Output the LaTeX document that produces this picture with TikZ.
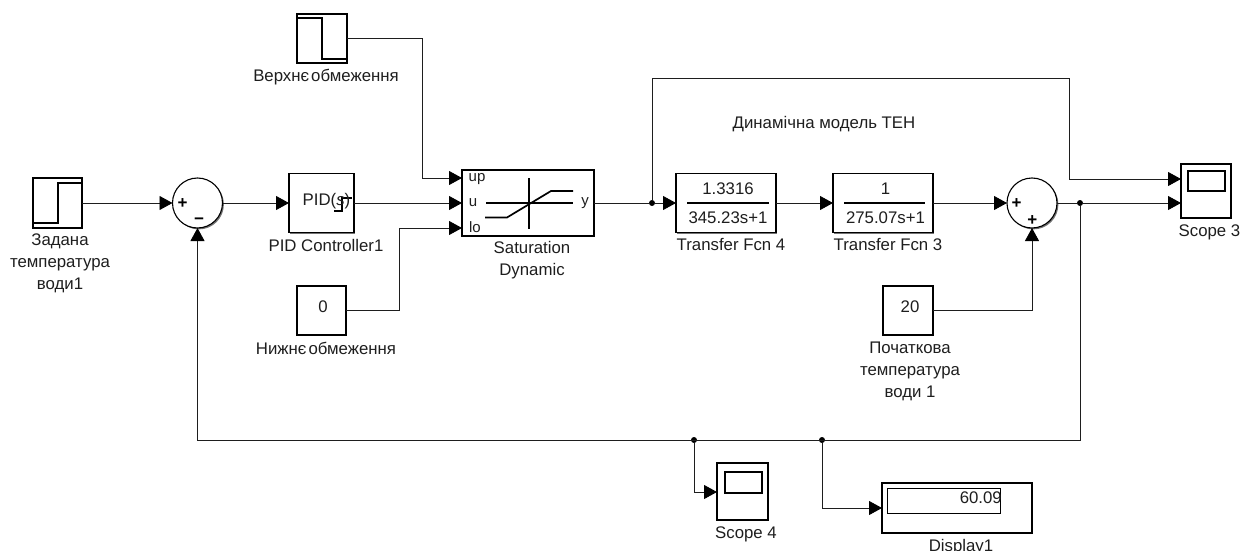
\documentclass[tikz,border=0pt]{standalone}
\usepackage{fontspec}
\setmainfont{Liberation Sans}
\usetikzlibrary{arrows.meta,shadows}
\definecolor{ink}{HTML}{1E1E1E}
\tikzset{
  block/.style={draw=black,line width=1.1pt,fill=white,inner sep=0pt,outer sep=0pt,
    drop shadow={shadow xshift=1.4pt,shadow yshift=-1.4pt,fill=black!55,opacity=1}},
  sumblock/.style={block,circle,minimum size=50pt},
  wire/.style={draw=ink,line width=.9pt},
  arr/.style={wire,-{Triangle[length=13pt,width=14pt,color=black]}},
  dot/.style={circle,fill=black,inner sep=0pt,outer sep=0pt,minimum size=6pt},
  lbl/.style={text=ink,inner sep=0pt,align=center,font=\fontsize{16.8}{22}\selectfont},
  small lbl/.style={lbl,font=\fontsize{15}{15}\selectfont},
  icon/.style={draw=black,line width=1.7pt},
  thin icon/.style={draw=black,line width=1.1pt},
  sign/.style={text=black,inner sep=0pt,font=\fontsize{17}{17}\selectfont\bfseries},
}
\begin{document}
\begin{tikzpicture}[x=1pt,y=-1pt]
\useasboundingbox (0,0) rectangle (1240,551);
% blocks
\node[block,minimum width=49pt,minimum height=50pt] (step1) at (57.5,203) {};
\node[sumblock] (sum1) at (197.5,203) {};
\node[block,minimum width=65pt,minimum height=59pt] (pid) at (321.5,203) {};
\node[block,minimum width=49pt,minimum height=49pt] (const0) at (321.5,310.5) {};
\node[block,minimum width=50pt,minimum height=49pt] (step2) at (322,38.5) {};
\node[block,minimum width=132pt,minimum height=66pt] (sat) at (528,203) {};
\node[block,minimum width=100pt,minimum height=59pt] (tf4) at (726,203) {};
\node[block,minimum width=100pt,minimum height=59pt] (tf3) at (883,203) {};
\node[sumblock] (sum2) at (1032,203) {};
\node[block,minimum width=50pt,minimum height=54pt] (scope3) at (1206,191) {};
\node[block,minimum width=50pt,minimum height=49pt] (const20) at (908,310.5) {};
\node[block,minimum width=51pt,minimum height=57pt] (scope4) at (742.5,491.5) {};
\node[block,minimum width=150pt,minimum height=50pt] (display) at (957,508) {};
% icons
\draw[icon] (33,223) -- (58,223) -- (58,183) -- (82,183);
\draw[icon] (297,18) -- (322,18) -- (322,59) -- (347,59);
\draw[thin icon] (334,211) -- (342,211) -- (342,198) -- (352,198);
\draw[icon] (486,203) -- (573,203);
\draw[icon] (529,178) -- (529,229);
\draw[icon] (485,217.5) -- (507,217.5) -- (551,191) -- (573,191);
\draw[icon] (687,203) -- (768.5,203);
\draw[icon] (844,203) -- (925,203);
\draw[thin icon] (1188,171) rectangle (1225,191);
\draw[thin icon] (725,472) rectangle (762,493);
\draw[draw=black,line width=.8pt] (887,488) rectangle (1000,513);
% block texts
\node[lbl] (pidtxt) at (326.5,201) {PID(\textit{s})};
\node[small lbl] (up) at (477,179.5) {up};
\node[small lbl] (u) at (473,203) {u};
\node[small lbl] (lo) at (475,227) {lo};
\node[small lbl] (y) at (585,203) {y};
\node[lbl] (zero) at (323,307) {0};
\node[lbl] (twenty) at (910,307) {20};
\node[lbl] (num4) at (728,189) {1.3316};
\node[lbl] (den4) at (728,218) {345.23s+1};
\node[lbl] (num3) at (885.5,189) {1};
\node[lbl] (den3) at (885.5,218) {275.07s+1};
\node[lbl,anchor=east] (disp) at (1002,498) {60.09};
\node[sign] (s1a) at (182.5,204) {+};
\node[sign] (s1b) at (199,221) {−};
\node[sign] (s2a) at (1016.7,204) {+};
\node[sign] (s2b) at (1032.4,221) {+};
% labels
\node[lbl] (l1) at (60,263) {Задана\\температура\\води1};
\node[lbl] (l2) at (326,245) {PID Controller1};
\node[lbl] (l3) at (326,348) {Нижнє{\kern.12em}обмеження};
\node[lbl] (l4) at (326,77) {Верхнє{\kern.12em}обмеження};
\node[lbl] (l5) at (532,260.5) {Saturation\\Dynamic};
\node[lbl] (l6) at (731,245) {Transfer Fcn 4};
\node[lbl] (l7) at (888,245) {Transfer Fcn 3};
\node[lbl] (l8) at (910,371) {Початкова\\температура\\води 1};
\node[lbl] (l9) at (1209.5,232) {Scope 3};
\node[lbl] (l10) at (746,534) {Scope 4};
\node[lbl] (l11) at (961,547) {Display1};
\node[lbl] (l12) at (824,124) {Динамічна модель ТЕН};
% junctions and ports
\node[dot] (j1) at (652,203) {};
\node[dot] (j2) at (1080,203) {};
\node[dot] (j3) at (694,440) {};
\node[dot] (j4) at (822,440) {};
\coordinate (satup) at (462,178);
\coordinate (satlo) at (462,228);
\coordinate (sc3a) at (1181,179);
\coordinate (sc3b) at (1181,203);
\coordinate (b1) at (422,38.5);
\coordinate (b2) at (399,310.5);
\coordinate (t1) at (652,78);
\coordinate (t2) at (1069,78);
\coordinate (t3) at (1069,179);
\coordinate (f1) at (1080,440);
\coordinate (f2) at (197.5,440);
\coordinate (s4in) at (717,492);
\coordinate (dispin) at (882,508);
% connectors
\draw[arr] (step1.east) -- (sum1.west);
\draw[arr] (sum1.east) -- (pid.west);
\draw[arr] (pid.east) -- (sat.west);
\draw[arr] (step2.east) -- (b1) |- (satup);
\draw[arr] (const0.east) -- (b2) |- (satlo);
\draw[wire] (sat.east) -- (j1);
\draw[arr] (j1) -- (tf4.west);
\draw[arr] (tf4.east) -- (tf3.west);
\draw[arr] (tf3.east) -- (sum2.west);
\draw[wire] (sum2.east) -- (j2);
\draw[arr] (j2) -- (sc3b);
\draw[arr] (j1) -- (t1) -- (t2) -- (t3) -- (sc3a);
\draw[arr] (const20.east) -| (sum2.south);
\draw[arr] (j2) -- (f1) -- (f2) -- (sum1.south);
\draw[arr] (j3) |- (s4in);
\draw[arr] (j4) |- (dispin);
\end{tikzpicture}
\end{document}
